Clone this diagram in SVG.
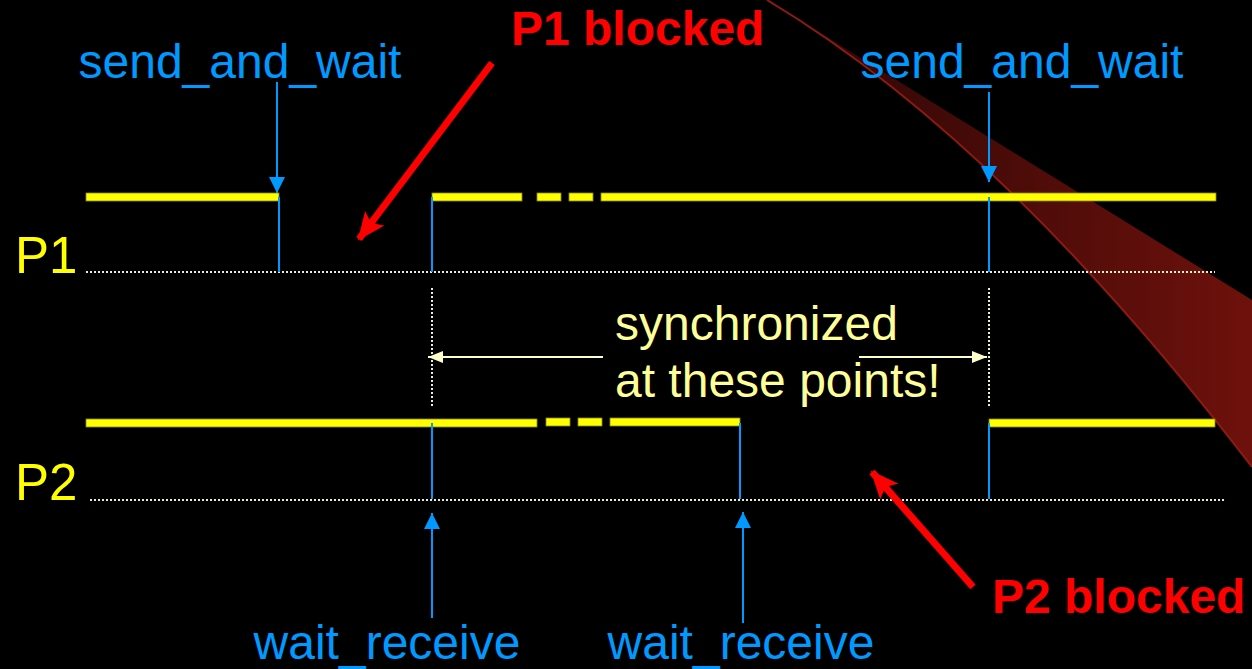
<svg xmlns="http://www.w3.org/2000/svg" width="1252" height="669" viewBox="0 0 1252 669">
<defs>
<linearGradient id="swg" gradientUnits="userSpaceOnUse" x1="850" y1="0" x2="1252" y2="0">
<stop offset="0" stop-color="#340806"/>
<stop offset="1" stop-color="#6e110c"/>
</linearGradient>
<marker id="blueHead" viewBox="0 0 16 16" refX="16" refY="8" markerWidth="16" markerHeight="16" markerUnits="userSpaceOnUse" orient="auto">
<path d="M0,0 L16,8 L0,16 Z" fill="#0099FF"/>
</marker>
<marker id="paleHead" viewBox="0 0 15 12" refX="15" refY="6" markerWidth="15" markerHeight="12" markerUnits="userSpaceOnUse" orient="auto">
<path d="M0,0 L15,6 L0,12 Z" fill="#FFFFCC"/>
</marker>
<marker id="redHead" viewBox="0 0 28 24" refX="26" refY="12" markerWidth="28" markerHeight="24" markerUnits="userSpaceOnUse" orient="auto">
<path d="M0,0 L28,12 L0,24 L6,12 Z" fill="#FF0000"/>
</marker>
<style>
.bg{fill:#000000}
.yl{fill:#FFFF00;stroke:#8a8a00;stroke-width:0.8}
.dot{stroke:#EEEECC;stroke-width:2;stroke-dasharray:2 2;fill:none}
.blue{stroke:#0099FF;stroke-width:2;fill:none}
.barrow{stroke:#0099FF;stroke-width:2;fill:none;marker-end:url(#blueHead)}
.parrow{stroke:#FFFFCC;stroke-width:2;fill:none;marker-end:url(#paleHead)}
.rarrow{stroke:#FF0000;stroke-width:7;fill:none;marker-end:url(#redHead)}
.lbl{font-family:"Liberation Sans",Arial,sans-serif;font-size:48px}
.btxt{fill:#0099FF}
.ptxt{fill:#FFFF00;font-size:51px}
.stxt{fill:#FFFF99}
.rtxt{fill:#FF0000;font-weight:bold}
</style>
</defs>
<rect class="bg" x="0" y="0" width="1252" height="669"/>
<g id="swoosh">
<path d="M767,0 L1252,300 L1252,467 Q1001,140 767,0 Z" fill="url(#swg)"/>
<path d="M767,0 Q1001,140 1252,467" fill="none" stroke="#8e1a14" stroke-width="2"/>
</g>
<g id="P1">
<text class="lbl ptxt" x="15" y="273">P1</text>
<line class="dot" x1="86" y1="272" x2="1215" y2="272"/>
<rect class="yl" x="86" y="193" width="193" height="8"/>
<rect class="yl" x="432" y="193" width="90" height="8"/>
<rect class="yl" x="537" y="193" width="24" height="8"/>
<rect class="yl" x="569" y="193" width="24" height="8"/>
<rect class="yl" x="601" y="193" width="615" height="8"/>
</g>
<g id="P2">
<text class="lbl ptxt" x="15" y="500">P2</text>
<line class="dot" x1="90" y1="500" x2="1225" y2="500"/>
<rect class="yl" x="86" y="419" width="451" height="8"/>
<rect class="yl" x="546" y="418" width="24" height="8"/>
<rect class="yl" x="578" y="418" width="24" height="8"/>
<rect class="yl" x="610" y="418" width="130" height="8"/>
<rect class="yl" x="989" y="419" width="226" height="8"/>
</g>
<g id="send1">
<text class="lbl btxt" x="240" y="78" text-anchor="middle">send_and_wait</text>
</g>
<g id="send2">
<text class="lbl btxt" x="1022" y="78" text-anchor="middle">send_and_wait</text>
</g>
<g id="recv1">
<text class="lbl btxt" x="387" y="659" text-anchor="middle">wait_receive</text>
</g>
<g id="recv2">
<text class="lbl btxt" x="741" y="659" text-anchor="middle">wait_receive</text>
</g>
<g id="sync">
<text class="lbl stxt" x="615" y="340">synchronized</text>
<text class="lbl stxt" x="615" y="397">at these points!</text>
</g>
<g id="blocked1">
<text class="lbl rtxt" x="511" y="45">P1 blocked</text>
</g>
<g id="blocked2">
<text class="lbl rtxt" x="992" y="613">P2 blocked</text>
</g>
<g id="connectors">
<line class="blue" x1="279" y1="197" x2="279" y2="272"/>
<line class="blue" x1="432" y1="197" x2="432" y2="272"/>
<line class="blue" x1="989" y1="197" x2="989" y2="272"/>
<line class="blue" x1="432" y1="423" x2="432" y2="499"/>
<line class="blue" x1="740" y1="423" x2="740" y2="499"/>
<line class="blue" x1="989" y1="423" x2="989" y2="499"/>
<line class="barrow" x1="277" y1="82" x2="277" y2="193"/>
<line class="barrow" x1="989" y1="92" x2="989" y2="182"/>
<line class="barrow" x1="432" y1="618" x2="432" y2="513"/>
<line class="barrow" x1="743" y1="623" x2="743" y2="512"/>
<line class="dot" x1="432" y1="288" x2="432" y2="408"/>
<line class="dot" x1="989" y1="288" x2="989" y2="408"/>
<line class="parrow" x1="603" y1="357" x2="428" y2="357"/>
<line class="parrow" x1="859" y1="357" x2="987" y2="357"/>
<line class="rarrow" x1="492" y1="63" x2="359" y2="239"/>
<line class="rarrow" x1="973" y1="587" x2="872" y2="472"/>
</g>
</svg>
